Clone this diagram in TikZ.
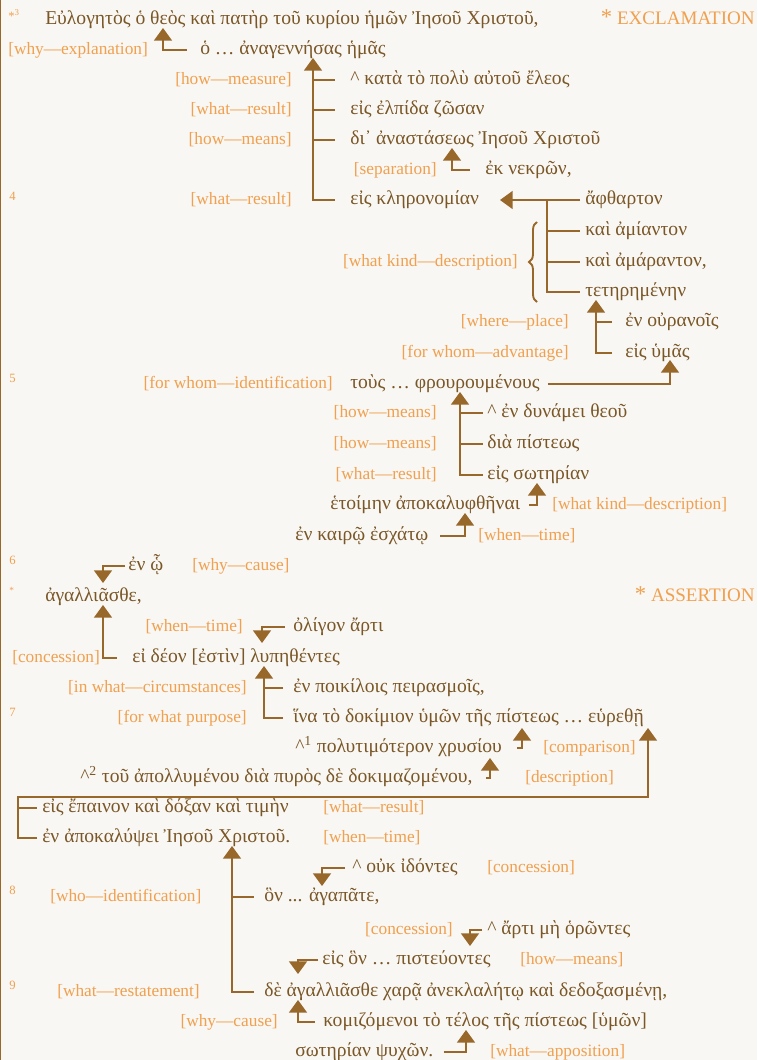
\documentclass[tikz,border=0pt]{standalone}
\usepackage{fontspec}
\setmainfont{Liberation Serif}
\usetikzlibrary{arrows.meta,calc,decorations.pathreplacing}
\definecolor{cBg}{HTML}{F9F7F3}
\definecolor{cGreek}{HTML}{7A5727}
\definecolor{cLabel}{HTML}{F0A04E}
\definecolor{cLine}{HTML}{98682A}
\begin{document}
\begin{tikzpicture}[x=0.75pt,y=-0.75pt,
  grk/.style={anchor=west,inner sep=0pt,text height=10pt,text depth=3.5pt,font=\fontsize{14.7}{16}\selectfont,text=cGreek},
  lbw/.style={anchor=west,inner sep=0pt,text height=9.5pt,text depth=3pt,font=\fontsize{13}{15}\selectfont,text=cLabel},
  lbe/.style={lbw,anchor=east},
  vnum/.style={anchor=west,inner sep=0pt,font=\fontsize{9.5}{10}\selectfont,text=cLabel},
  conn/.style={draw=cLine,line width=1.2pt},
  arr/.style={conn,-{Triangle[width=13.5pt,length=9.5pt]}}]
\useasboundingbox (0,0) rectangle (757,1060);
\fill[cBg] (0,0) rectangle (757,1060);
\draw[cLine,line width=1pt] (0.6,0) -- (0.6,1060);

% verse numbers and headings
\node[vnum] (v3) at (8,15) {*\textsuperscript{3}};
\node[lbe,font=\fontsize{14.3}{15}\selectfont] (hEx) at (755,20) {{\fontsize{17}{15}\selectfont *} EXCLAMATION};
\node[vnum] (v4) at (9,196) {4};
\node[vnum] (v5) at (9,378) {5};
\node[vnum] (v6) at (9,560) {6};
\node[vnum,font=\fontsize{7}{8}\selectfont] (vs) at (9,590) {*};
\node[lbe,font=\fontsize{14.3}{15}\selectfont] (hAs) at (755,597) {{\fontsize{17}{15}\selectfont *} ASSERTION};
\node[vnum] (v7) at (9,712) {7};
\node[vnum] (v8) at (9,890) {8};
\node[vnum] (v9) at (9,985) {9};

% Greek text
\node[grk] (g1) at (45,20) {Εὐλογητὸς ὁ θεὸς καὶ πατὴρ τοῦ κυρίου ἡμῶν Ἰησοῦ Χριστοῦ,};
\node[grk] (g2) at (200,50) {ὁ … ἀναγεννήσας ἡμᾶς};
\node[grk] (g3) at (350,80) {\textasciicircum{} κατὰ τὸ πολὺ αὐτοῦ ἔλεος};
\node[grk] (g4) at (350,110) {εἰς ἐλπίδα ζῶσαν};
\node[grk] (g5) at (350,140) {δι᾽ ἀναστάσεως Ἰησοῦ Χριστοῦ};
\node[grk] (g6) at (485,170) {ἐκ νεκρῶν,};
\node[grk] (g7) at (350,200) {εἰς κληρονομίαν};
\node[grk] (g8) at (585,200) {ἄφθαρτον};
\node[grk] (g9) at (585,231) {καὶ ἀμίαντον};
\node[grk] (g10) at (585,262) {καὶ ἀμάραντον,};
\node[grk] (g11) at (585,292) {τετηρημένην};
\node[grk] (g12) at (625,322) {ἐν οὐρανοῖς};
\node[grk] (g13) at (625,353) {εἰς ὑμᾶς};
\node[grk] (g14) at (350,384) {τοὺς … φρουρουμένους};
\node[grk] (g15) at (487,413) {\textasciicircum{} ἐν δυνάμει θεοῦ};
\node[grk] (g16) at (487,444) {διὰ πίστεως};
\node[grk] (g17) at (487,475) {εἰς σωτηρίαν};
\node[grk] (g18) at (330,505) {ἑτοίμην ἀποκαλυφθῆναι};
\node[grk] (g19) at (295,536) {ἐν καιρῷ ἐσχάτῳ};
\node[grk] (g20) at (128,566) {ἐν ᾧ};
\node[grk] (g21) at (45,597) {ἀγαλλιᾶσθε,};
\node[grk] (g22) at (293,627) {ὀλίγον ἄρτι};
\node[grk] (g23) at (132,658) {εἰ δέον [ἐστὶν] λυπηθέντες};
\node[grk] (g24) at (293,688) {ἐν ποικίλοις πειρασμοῖς,};
\node[grk] (g25) at (293,718) {ἵνα τὸ δοκίμιον ὑμῶν τῆς πίστεως … εὑρεθῇ};
\node[grk] (g26) at (295,748) {\textasciicircum\textsuperscript{1} πολυτιμότερον χρυσίου};
\node[grk] (g27) at (80,778) {\textasciicircum\textsuperscript{2} τοῦ ἀπολλυμένου διὰ πυρὸς δὲ δοκιμαζομένου,};
\node[grk] (g28) at (42,808) {εἰς ἔπαινον καὶ δόξαν καὶ τιμὴν};
\node[grk] (g29) at (42,838) {ἐν ἀποκαλύψει Ἰησοῦ Χριστοῦ.};
\node[grk] (g30) at (352,868) {\textasciicircum{} οὐκ ἰδόντες};
\node[grk] (g31) at (264,897) {ὃν ... ἀγαπᾶτε,};
\node[grk] (g32) at (487,930) {\textasciicircum{} ἄρτι μὴ ὁρῶντες};
\node[grk] (g33) at (322,960) {εἰς ὃν … πιστεύοντες};
\node[grk] (g34) at (264,992) {δὲ ἀγαλλιᾶσθε χαρᾷ ἀνεκλαλήτῳ καὶ δεδοξασμένῃ,};
\node[grk] (g35) at (323,1022) {κομιζόμενοι τὸ τέλος τῆς πίστεως [ὑμῶν]};
\node[grk] (g36) at (295,1052) {σωτηρίαν ψυχῶν.};

% labels
\node[lbw] (l1) at (8,50) {[why—explanation]};
\node[lbe] (l2) at (292,80) {[how—measure]};
\node[lbe] (l3) at (292,110) {[what—result]};
\node[lbe] (l4) at (292,140) {[how—means]};
\node[lbe] (l5) at (437,170) {[separation]};
\node[lbe] (l6) at (292,200) {[what—result]};
\node[lbe] (l7) at (518,262) {[what kind—description]};
\node[lbe] (l8) at (569,322) {[where—place]};
\node[lbe] (l9) at (569,353) {[for whom—advantage]};
\node[lbe] (l10) at (333,384) {[for whom—identification]};
\node[lbe] (l11) at (437,413) {[how—means]};
\node[lbe] (l12) at (437,444) {[how—means]};
\node[lbe] (l13) at (437,475) {[what—result]};
\node[lbw] (l14) at (552,505) {[what kind—description]};
\node[lbw] (l15) at (478,536) {[when—time]};
\node[lbw] (l16) at (192,566) {[why—cause]};
\node[lbe] (l17) at (243,627) {[when—time]};
\node[lbw] (l18) at (12,658) {[concession]};
\node[lbe] (l19) at (247,688) {[in what—circumstances]};
\node[lbe] (l20) at (247,718) {[for what purpose]};
\node[lbw] (l21) at (543,748) {[comparison]};
\node[lbw] (l22) at (525,778) {[description]};
\node[lbw] (l23) at (323,808) {[what—result]};
\node[lbw] (l24) at (323,838) {[when—time]};
\node[lbw] (l25) at (487,868) {[concession]};
\node[lbw] (l26) at (50,897) {[who—identification]};
\node[lbe] (l27) at (453,930) {[concession]};
\node[lbw] (l28) at (520,960) {[how—means]};
\node[lbw] (l29) at (57,992) {[what—restatement]};
\node[lbe] (l30) at (278,1022) {[why—cause]};
\node[lbw] (l31) at (490,1052) {[what—apposition]};

% arrow tips / junctions
\coordinate (a1) at (163,28);
\coordinate (a2) at (313,58);
\coordinate (a3) at (452,148);
\coordinate (a4) at (500,200);
\coordinate (b4) at (547,200);
\coordinate (a5) at (596,300);
\coordinate (a6) at (670,360);
\coordinate (a7) at (460,392);
\coordinate (a8) at (537,483);
\coordinate (a9) at (465,513);
\coordinate (a10) at (103,583);
\coordinate (a11) at (103,605);
\coordinate (a12) at (262,643);
\coordinate (a13) at (264,666);
\coordinate (a14) at (522,728);
\coordinate (a15) at (490,758);
\coordinate (a16) at (648,728);
\coordinate (k16) at (18,797);
\coordinate (a17) at (232,846);
\coordinate (a18) at (322,886);
\coordinate (a19) at (470,946);
\coordinate (a20) at (298,974);
\coordinate (a21) at (298,1000);
\coordinate (a22) at (466,1030);

% connectors
\draw[arr] ($(g2.west)+(-13,0)$) -| (a1);
\draw[arr] ($(g7.west)+(-15,0)$) -| (a2);
\draw[conn] ($(g3.west)+(-15,0)$) -- (g3.west -| a2);
\draw[conn] ($(g4.west)+(-15,0)$) -- (g4.west -| a2);
\draw[conn] ($(g5.west)+(-15,0)$) -- (g5.west -| a2);
\draw[arr] ($(g6.west)+(-15,0)$) -| (a3);
\draw[arr] ($(g8.west)+(-5,0)$) -- (a4);
\draw[conn] (b4) |- ($(g11.west)+(-5,0)$);
\draw[conn] ($(g9.west)+(-5,0)$) -- (g9.west -| b4);
\draw[conn] ($(g10.west)+(-5,0)$) -- (g10.west -| b4);
\draw[decorate,decoration={brace,amplitude=6pt},draw=cLine,line width=1.4pt] (537,302) -- (537,222);
\draw[arr] ($(g13.west)+(-13,0)$) -| (a5);
\draw[conn] ($(g12.west)+(-13,0)$) -- (g12.west -| a5);
\draw[arr] ($(g14.east)+(8,0)$) -| (a6);
\draw[arr] ($(g17.west)+(-4,0)$) -| (a7);
\draw[conn] ($(g15.west)+(-4,0)$) -- (g15.west -| a7);
\draw[conn] ($(g16.west)+(-4,0)$) -- (g16.west -| a7);
\draw[arr] ($(g18.east)+(9,0)$) -| (a8);
\draw[arr] ($(g19.east)+(12,0)$) -| (a9);
\draw[arr] ($(g20.west)+(-3,0)$) -| (a10);
\draw[arr] ($(g23.west)+(-15,0)$) -| (a11);
\draw[arr] ($(g22.west)+(-8,0)$) -| (a12);
\draw[arr] ($(g25.west)+(-10,0)$) -| (a13);
\draw[conn] ($(g24.west)+(-10,0)$) -- (g24.west -| a13);
\draw[arr] ($(g26.east)+(15,0)$) -| (a14);
\draw[arr] ($(g27.east)+(13,0)$) -| (a15);
\draw[arr] ($(g29.west)+(-5,0)$) -| (k16) -| (a16);
\draw[conn] ($(g28.west)+(-5,0)$) -- (g28.west -| k16);
\draw[arr] ($(g34.west)+(-10,0)$) -| (a17);
\draw[conn] ($(g31.west)+(-10,0)$) -- (g31.west -| a17);
\draw[arr] ($(g30.west)+(-7,0)$) -| (a18);
\draw[arr] ($(g32.west)+(-5,0)$) -| (a19);
\draw[arr] ($(g33.west)+(-4,0)$) -| (a20);
\draw[arr] ($(g35.west)+(-8,0)$) -| (a21);
\draw[arr] ($(g36.east)+(10,0)$) -| (a22);
\end{tikzpicture}
\end{document}
